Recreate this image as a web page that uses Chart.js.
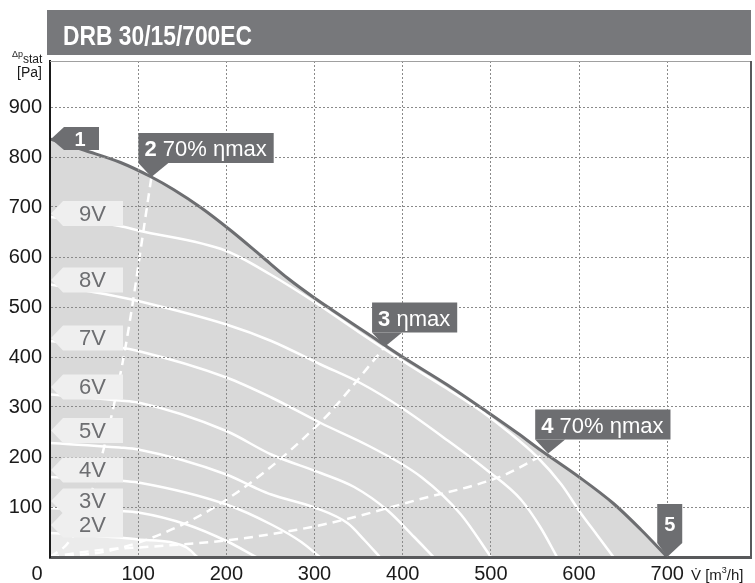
<!DOCTYPE html>
<html>
<head>
<meta charset="utf-8">
<title>DRB 30/15/700EC</title>
<script src="https://cdn.jsdelivr.net/npm/chart.js@4.4.1/dist/chart.umd.min.js"></script>
<style>
    body { margin: 0; background: #fff; }
    #wrap { position: relative; width: 755px; height: 583px; }
    #chart { position: absolute; left: 0; top: 0; }
    #head {
        position: absolute; left: 47px; top: 10px; width: 704px; height: 45px;
        background: #77787b;
    }
    #head span {
        position: absolute; left: 16px; top: 3px; color: #fff;
        font: bold 28px/45px "Liberation Sans", Arial, sans-serif;
        white-space: nowrap;
        transform: scaleX(0.815);
        transform-origin: 0 0;
    }
</style>
</head>
<body>
<div id="wrap">
    <canvas id="chart" width="755" height="583"></canvas>
    <div id="head"><span>DRB 30/15/700EC</span></div>
</div>
<script>
// Кривые вентилятора: [расход м3/ч, давление Па]
const curveMax = [[0, 836], [40, 813], [80, 789], [115, 760], [140, 735], [171, 699], [205, 653], [239, 603], [270, 557], [300, 518], [320, 494], [360, 447], [400, 400], [450, 345], [496, 290], [530, 248], [557, 213], [600, 160], [639, 107], [670, 55], [700, 0]];
const curve9V = [[0, 680], [79, 662], [100, 653], [200, 612], [250, 565], [300, 510], [350, 450], [400, 392], [450, 337], [488, 293], [520, 250], [552, 201], [580, 145], [601, 90], [620, 45], [639, 0]];
const curve8V = [[0, 545], [79, 520], [100, 512], [200, 465], [251, 432], [307, 385], [353, 347], [400, 297], [451, 233], [496, 173], [534, 115], [556, 60], [575, 0]];
const curve7V = [[0, 432], [79, 419], [100, 412], [200, 359], [251, 319], [307, 268], [364, 220], [421, 160], [466, 85], [500, 0]];
const curve6V = [[0, 325], [79, 313], [100, 309], [200, 252], [251, 205], [307, 168], [345, 140], [383, 93], [413, 40], [435, 0]];
const curve5V = [[0, 228], [79, 219], [100, 215], [200, 165], [232, 139], [251, 125], [300, 99], [338, 67], [357, 33], [374, 0]];
const curve4V = [[0, 160], [79, 153], [100, 149], [200, 105], [251, 65], [285, 30], [306, 0]];
const curve3V = [[0, 98], [79, 92], [100, 89], [155, 65], [200, 32], [234, 0]];
const curve2V = [[0, 48], [79, 39], [100, 35], [136, 30], [155, 19], [167, 0]];

// Линии КПД (пунктир)
const eff70Left = [[0, 0], [19, 25], [32, 60], [45, 118], [57, 190], [72, 300], [85, 414], [94, 510], [102, 605], [115, 760]];
const effMax = [[0, 0], [60, 10], [102, 30], [148, 63], [186, 99], [224, 144], [262, 197], [307, 270], [319, 292], [380, 421]];
const eff70Right = [[0, 0], [57, 14], [117, 21], [204, 34], [269, 51], [318, 68], [416, 114], [511, 161], [560, 205]];

// Подписи скоростей и точки на характеристике
const speedNames = ["9V", "8V", "7V", "6V", "5V", "4V", "3V", "2V"];
const speedTabAt = [687, 554, 438, 340, 253, 174, 112, 64];
const markerNumbers = ["1", "2", "3", "4", "5"];
const markerNotes = ["", "70% ηmax", "ηmax", "70% ηmax", ""];
const markerFlow = [0, 115, 380, 565, 700];
const markerPressure = [836, 760, 421, 207, 0];

const xTicks = [0, 100, 200, 300, 400, 500, 600, 700];
const yTicks = [100, 200, 300, 400, 500, 600, 700, 800, 900];

const FONT = "'Liberation Sans', Arial, sans-serif";
const DARK = "#6d6e71";

function pts(arr) {
    return arr.map(([x, y]) => ({ x, y }));
}

function whiteLine(arr, order) {
    return {
        data: pts(arr),
        borderColor: "#ffffff",
        borderWidth: 2.5,
        fill: false,
        order: order,
    };
}

function dashedLine(arr) {
    return {
        data: pts(arr),
        borderColor: "#ffffff",
        borderWidth: 2.5,
        borderDash: [9, 6],
        fill: false,
        order: 5,
    };
}

// Рамка, подписи осей, выноски
const annotations = {
    id: "annotations",
    afterDraw(chart) {
        const { ctx, chartArea: area, scales: { x, y } } = chart;
        ctx.save();

        // верхняя и правая граница
        ctx.strokeStyle = "#a0a0a0";
        ctx.lineWidth = 1;
        ctx.beginPath();
        ctx.moveTo(area.left, area.top + 0.5);
        ctx.lineTo(area.right, area.top + 0.5);
        ctx.stroke();
        ctx.strokeStyle = "#58595b";
        ctx.lineWidth = 2;
        ctx.beginPath();
        ctx.moveTo(area.right, area.top);
        ctx.lineTo(area.right, area.bottom);
        ctx.stroke();

        // вкладки скоростей
        const left = x.getPixelForValue(0);
        speedNames.forEach((name, i) => {
            const cy = y.getPixelForValue(speedTabAt[i]);
            ctx.fillStyle = "#efefef";
            ctx.beginPath();
            ctx.moveTo(left + 1, cy);
            ctx.lineTo(left + 13, cy - 12.5);
            ctx.lineTo(left + 73, cy - 12.5);
            ctx.lineTo(left + 73, cy + 12.5);
            ctx.lineTo(left + 13, cy + 12.5);
            ctx.closePath();
            ctx.fill();
            ctx.fillStyle = DARK;
            ctx.font = "22px " + FONT;
            ctx.textAlign = "center";
            ctx.textBaseline = "middle";
            ctx.fillText(name, left + 42.5, cy + 1);
        });

        // выноски 1..5
        markerNumbers.forEach((num, i) => {
            const ax = x.getPixelForValue(markerFlow[i]);
            const ay = y.getPixelForValue(markerPressure[i]);
            ctx.fillStyle = DARK;
            ctx.textBaseline = "alphabetic";
            if (i === 0) {
                ctx.beginPath();
                ctx.moveTo(ax + 1, ay);
                ctx.lineTo(ax + 14, ay - 12);
                ctx.lineTo(ax + 49, ay - 12);
                ctx.lineTo(ax + 49, ay + 11);
                ctx.lineTo(ax + 14, ay + 11);
                ctx.closePath();
                ctx.fill();
                ctx.fillStyle = "#fff";
                ctx.font = "bold 20px " + FONT;
                ctx.textAlign = "center";
                ctx.fillText(num, ax + 30, ay + 7);
            } else if (i === markerNumbers.length - 1) {
                ctx.beginPath();
                ctx.moveTo(ax - 10, ay - 53);
                ctx.lineTo(ax + 15, ay - 53);
                ctx.lineTo(ax + 15, ay - 14);
                ctx.lineTo(ax, ay);
                ctx.lineTo(ax - 10, ay - 14);
                ctx.closePath();
                ctx.fill();
                ctx.fillStyle = "#fff";
                ctx.font = "bold 20px " + FONT;
                ctx.textAlign = "center";
                ctx.fillText(num, ax + 2.5, ay - 26);
            } else {
                ctx.font = "bold 22px " + FONT;
                const wNum = ctx.measureText(num + " ").width;
                ctx.font = "22px " + FONT;
                const wNote = ctx.measureText(markerNotes[i]).width;
                const bx = ax - 13;
                const by = ay - 44;
                ctx.fillRect(bx, by, wNum + wNote + 13, 30);
                ctx.beginPath();
                ctx.moveTo(bx, by + 30);
                ctx.lineTo(bx + 30, by + 30);
                ctx.lineTo(ax, ay);
                ctx.closePath();
                ctx.fill();
                ctx.fillStyle = "#fff";
                ctx.textAlign = "left";
                ctx.font = "bold 22px " + FONT;
                ctx.fillText(num, bx + 6, by + 23);
                ctx.font = "22px " + FONT;
                ctx.fillText(markerNotes[i], bx + 6 + wNum, by + 23);
            }
        });

        // подпись "0" на оси X смещена влево
        ctx.fillStyle = "#1a1a1a";
        ctx.font = "20px " + FONT;
        ctx.textAlign = "center";
        ctx.textBaseline = "middle";
        ctx.fillText("0", x.getPixelForValue(0) - 13, area.bottom + 17);

        // подпись оси Y
        ctx.textAlign = "left";
        ctx.textBaseline = "alphabetic";
        ctx.font = "9px " + FONT;
        ctx.fillText("Δp", 12, 57);
        ctx.font = "12px " + FONT;
        ctx.fillText("stat", 23, 63);
        ctx.font = "14px " + FONT;
        ctx.textAlign = "right";
        ctx.fillText("[Pa]", 42, 77);

        // подпись оси X
        ctx.textAlign = "left";
        ctx.font = "15px " + FONT;
        let tx = 691;
        const base = 580;
        ctx.fillText("V\u0307 [m", tx, base);
        tx += ctx.measureText("V\u0307 [m").width;
        ctx.font = "9px " + FONT;
        ctx.fillText("3", tx, base - 7);
        tx += ctx.measureText("3").width;
        ctx.font = "15px " + FONT;
        ctx.fillText("/h]", tx, base);

        ctx.restore();
    },
};

new Chart(document.getElementById("chart"), {
    type: "scatter",
    data: {
        datasets: [
            {
                data: pts(curveMax),
                borderColor: DARK,
                borderWidth: 3,
                fill: false,
                order: 0,
            },
            dashedLine(eff70Left),
            dashedLine(effMax),
            dashedLine(eff70Right),
            whiteLine(curve9V, 10),
            whiteLine(curve8V, 10),
            whiteLine(curve7V, 10),
            whiteLine(curve6V, 10),
            whiteLine(curve5V, 10),
            whiteLine(curve4V, 10),
            whiteLine(curve3V, 10),
            {
                data: pts(curve2V),
                borderColor: "#ffffff",
                borderWidth: 2.5,
                backgroundColor: "#ebebeb",
                fill: "origin",
                order: 15,
            },
            {
                // заливка рабочей области
                data: pts(curveMax),
                borderWidth: 0,
                borderColor: "rgba(0,0,0,0)",
                backgroundColor: "#d9d9d9",
                fill: "origin",
                order: 20,
            },
        ],
    },
    options: {
        responsive: false,
        animation: false,
        showLine: true,
        layout: { padding: { top: 61, right: 4, left: 0, bottom: 0 } },
        elements: {
            point: { radius: 0, hoverRadius: 0 },
            line: { cubicInterpolationMode: "monotone" },
        },
        plugins: {
            legend: { display: false },
            tooltip: { enabled: false },
        },
        scales: {
            x: {
                type: "linear",
                min: 0,
                max: 795,
                afterFit: (scale) => { scale.height = 26; },
                afterBuildTicks: (scale) => { scale.ticks = xTicks.map((v) => ({ value: v })); },
                ticks: {
                    padding: 5,
                    color: "#1a1a1a",
                    font: { family: FONT, size: 20 },
                    maxRotation: 0,
                    autoSkip: false,
                    callback: (v) => (v === 0 ? "" : String(v)),
                },
                grid: {
                    z: 1,
                    drawTicks: false,
                    lineWidth: 1,
                    color: (c) => (c.tick && c.tick.value === 0 ? "rgba(0,0,0,0)" : "#8a8a8a"),
                },
                border: { z: 1, color: "#58595b", width: 3, dash: [2, 2] },
            },
            y: {
                type: "linear",
                min: 0,
                max: 992,
                afterFit: (scale) => { scale.width = 50; },
                afterBuildTicks: (scale) => { scale.ticks = yTicks.map((v) => ({ value: v })); },
                ticks: {
                    padding: 8,
                    color: "#1a1a1a",
                    font: { family: FONT, size: 20 },
                    autoSkip: false,
                },
                grid: {
                    z: 1,
                    drawTicks: false,
                    lineWidth: 1,
                    color: "#8a8a8a",
                },
                border: { z: 1, color: "#1a1a1a", width: 2, dash: [2, 2] },
            },
        },
    },
    plugins: [annotations],
});
</script>
</body>
</html>
